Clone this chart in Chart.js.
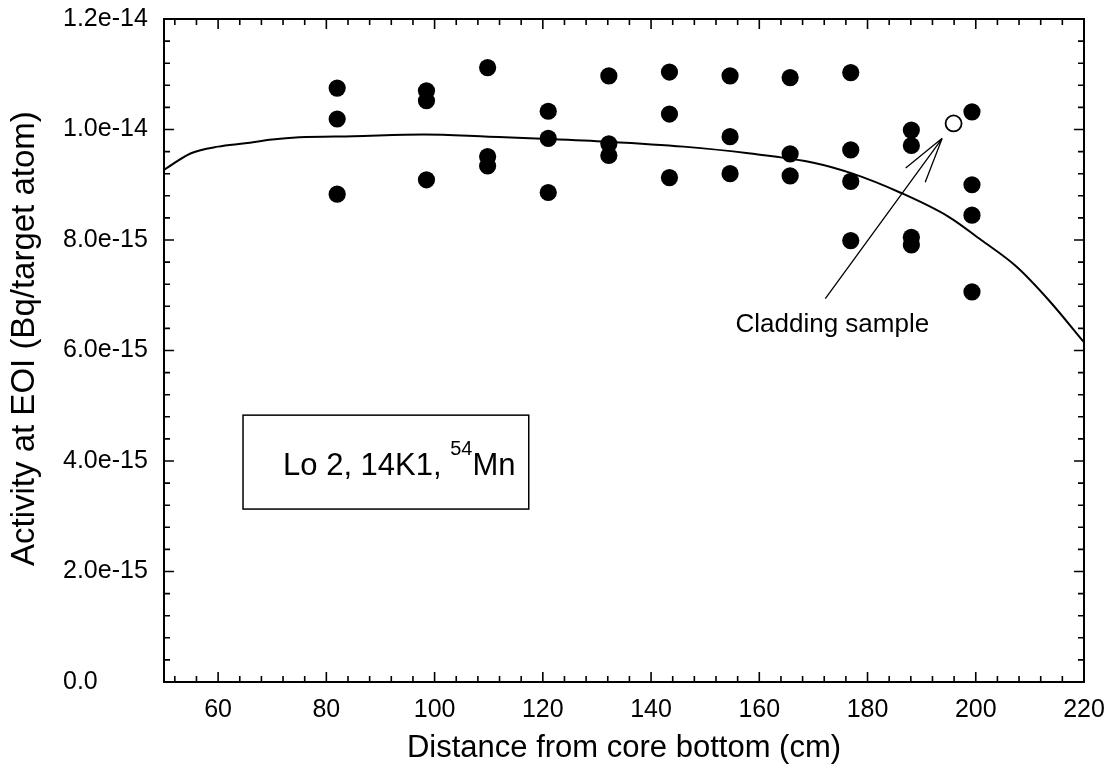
<!DOCTYPE html>
<html>
<head>
<meta charset="utf-8">
<title>Activity at EOI</title>
<script src="https://cdn.jsdelivr.net/npm/chart.js@4.4.1/dist/chart.umd.min.js"></script>
<style>
    html, body { margin: 0; padding: 0; background: #fff; }
    #wrap { width: 1110px; height: 780px; }
</style>
</head>
<body>
<div id="wrap"><canvas id="chart"></canvas></div>
<script>
// Measured samples (distance in cm, activity in Bq/target atom)
const sampleX = [
    82, 82, 82,
    98.5, 98.5, 98.5,
    109.8, 109.8, 109.8,
    121, 121, 121,
    132.2, 132.2, 132.2,
    143.4, 143.4, 143.4,
    154.6, 154.6, 154.6,
    165.7, 165.7, 165.7,
    176.9, 176.9, 176.9, 176.9,
    188.1, 188.1, 188.1, 188.1,
    199.3, 199.3, 199.3, 199.3
];
const sampleY = [
    10.75e-15, 10.19e-15, 8.83e-15,
    10.70e-15, 10.52e-15, 9.09e-15,
    11.12e-15, 9.51e-15, 9.34e-15,
    10.33e-15, 9.84e-15, 8.86e-15,
    10.97e-15, 9.74e-15, 9.53e-15,
    11.04e-15, 10.28e-15, 9.13e-15,
    10.97e-15, 9.87e-15, 9.20e-15,
    10.94e-15, 9.56e-15, 9.16e-15,
    11.03e-15, 9.63e-15, 9.06e-15, 7.99e-15,
    9.99e-15, 9.71e-15, 8.05e-15, 7.91e-15,
    10.32e-15, 9.00e-15, 8.45e-15, 7.06e-15
];

// Cladding sample (open circle)
const claddingX = [195.9];
const claddingY = [10.11e-15];

// Calculated profile (solid line)
const fitX = [50, 55, 60, 65, 70, 75, 85, 98, 110, 121, 132, 146, 158, 170, 177, 186, 195, 201, 207.5, 213.5, 220];
const fitY = [9.27e-15, 9.57e-15, 9.69e-15, 9.75e-15, 9.82e-15, 9.86e-15, 9.88e-15, 9.91e-15, 9.87e-15, 9.83e-15,
              9.78e-15, 9.69e-15, 9.57e-15, 9.40e-15, 9.21e-15, 8.86e-15, 8.42e-15, 8.00e-15, 7.52e-15, 6.91e-15, 6.15e-15];

// Axis ticks
const xTickValues = [60, 80, 100, 120, 140, 160, 180, 200, 220];
const yTickValues = [0, 2e-15, 4e-15, 6e-15, 8e-15, 1.0e-14, 1.2e-14];
const yTickLabels = ['0.0', '2.0e-15', '4.0e-15', '6.0e-15', '8.0e-15', '1.0e-14', '1.2e-14'];

const FONT = '"Liberation Sans", Arial, Helvetica, sans-serif';

// Frame, inward ticks on all four sides, y title, label box and arrow
const decorations = {
    id: 'decorations',
    afterDraw(chart) {
        const ctx = chart.ctx;
        const xs = chart.scales.x;
        const ys = chart.scales.y;
        const { left, right, top, bottom } = chart.chartArea;

        ctx.save();
        ctx.strokeStyle = '#000';
        ctx.lineWidth = 1.6;

        // minor + major ticks on x (bottom and top)
        for (let v = 52; v <= 220; v += 4) {
            const px = xs.getPixelForValue(v);
            const len = xTickValues.includes(v) ? 10 : 6;
            ctx.beginPath();
            ctx.moveTo(px, bottom); ctx.lineTo(px, bottom - len);
            ctx.moveTo(px, top); ctx.lineTo(px, top + len);
            ctx.stroke();
        }
        // minor + major ticks on y (left and right)
        for (let i = 0; i <= 30; i++) {
            const py = ys.getPixelForValue(i * 0.4e-15);
            const len = i % 5 === 0 ? 10 : 6;
            ctx.beginPath();
            ctx.moveTo(left, py); ctx.lineTo(left + len, py);
            ctx.moveTo(right, py); ctx.lineTo(right - len, py);
            ctx.stroke();
        }

        // frame
        ctx.lineWidth = 2;
        ctx.strokeRect(left, top, right - left, bottom - top);

        ctx.fillStyle = '#000';

        // y axis title (sits a bit below the axis centre in the original)
        ctx.save();
        ctx.translate(34, 566);
        ctx.rotate(-Math.PI / 2);
        ctx.font = '33px ' + FONT;
        ctx.textAlign = 'left';
        ctx.textBaseline = 'alphabetic';
        ctx.fillText('Activity at EOI (Bq/target atom)', 0, 0);
        ctx.restore();

        // label box
        const bx1 = xs.getPixelForValue(64.6), bx2 = xs.getPixelForValue(117.4);
        const by1 = ys.getPixelForValue(4.83e-15), by2 = ys.getPixelForValue(3.13e-15);
        ctx.lineWidth = 1.5;
        ctx.strokeRect(bx1, by1, bx2 - bx1, by2 - by1);

        ctx.textBaseline = 'alphabetic';
        ctx.textAlign = 'left';
        let tx = xs.getPixelForValue(72.0);
        const ty = ys.getPixelForValue(3.75e-15);
        ctx.font = '31px ' + FONT;
        const part1 = 'Lo 2, 14K1, ';
        ctx.fillText(part1, tx, ty);
        tx += ctx.measureText(part1).width;
        ctx.font = '20px ' + FONT;
        ctx.fillText('54', tx, ty - 20);
        tx += ctx.measureText('54').width;
        ctx.font = '31px ' + FONT;
        ctx.fillText('Mn', tx, ty);

        // arrow to cladding sample
        const tipX = xs.getPixelForValue(193.8), tipY = ys.getPixelForValue(9.84e-15);
        const tailX = xs.getPixelForValue(172.2), tailY = ys.getPixelForValue(6.94e-15);
        ctx.lineWidth = 1.3;
        ctx.beginPath();
        ctx.moveTo(tailX, tailY); ctx.lineTo(tipX, tipY);
        const ang = Math.atan2(tailY - tipY, tailX - tipX);
        [-0.26, 0.26].forEach(d => {
            ctx.moveTo(tipX, tipY);
            ctx.lineTo(tipX + 47 * Math.cos(ang + d), tipY + 47 * Math.sin(ang + d));
        });
        ctx.stroke();

        ctx.font = '26px ' + FONT;
        ctx.textAlign = 'center';
        ctx.fillText('Cladding sample', xs.getPixelForValue(173.5), ys.getPixelForValue(6.34e-15));
        ctx.restore();
    }
};

const ctx = document.getElementById('chart').getContext('2d');
new Chart(ctx, {
    type: 'scatter',
    data: {
        datasets: [
            {
                label: 'Calculation',
                data: fitX.map((x, i) => ({ x: x, y: fitY[i] })),
                showLine: true,
                borderColor: '#000',
                borderWidth: 2,
                pointRadius: 0,
                tension: 0.4,
                cubicInterpolationMode: 'monotone',
                fill: false
            },
            {
                label: 'Samples',
                data: sampleX.map((x, i) => ({ x: x, y: sampleY[i] })),
                backgroundColor: '#000',
                borderWidth: 0,
                pointRadius: 8.6
            },
            {
                label: 'Cladding sample',
                data: claddingX.map((x, i) => ({ x: x, y: claddingY[i] })),
                backgroundColor: '#fff',
                borderColor: '#000',
                borderWidth: 1.8,
                pointRadius: 8
            }
        ]
    },
    options: {
        responsive: true,
        maintainAspectRatio: false,
        animation: false,
        layout: {
            autoPadding: false,
            padding: { left: 63, top: 19, right: 26, bottom: 0 }
        },
        plugins: {
            legend: { display: false },
            tooltip: { enabled: false }
        },
        scales: {
            x: {
                type: 'linear',
                min: 50,
                max: 220,
                grid: { display: false, drawTicks: false },
                border: { display: false },
                afterBuildTicks: s => { s.ticks = xTickValues.map(v => ({ value: v })); },
                afterFit: s => { s.height = 98; s.paddingLeft = 0; s.paddingRight = 0; },
                ticks: {
                    color: '#000',
                    font: { family: FONT, size: 25 },
                    padding: 13,
                    maxRotation: 0,
                    autoSkip: false
                },
                title: {
                    display: true,
                    text: 'Distance from core bottom (cm)',
                    color: '#000',
                    font: { family: FONT, size: 31 },
                    padding: { top: 0, bottom: 13 }
                }
            },
            y: {
                type: 'linear',
                min: 0,
                max: 1.2e-14,
                grid: { display: false, drawTicks: false },
                border: { display: false },
                afterBuildTicks: s => { s.ticks = yTickValues.map(v => ({ value: v })); },
                afterFit: s => { s.width = 101; s.paddingTop = 0; s.paddingBottom = 0; },
                ticks: {
                    color: '#000',
                    font: { family: FONT, size: 25 },
                    crossAlign: 'far',
                    autoSkip: false,
                    callback: (v, i) => yTickLabels[i]
                },
                title: { display: false }
            }
        }
    },
    plugins: [decorations]
});
</script>
</body>
</html>
